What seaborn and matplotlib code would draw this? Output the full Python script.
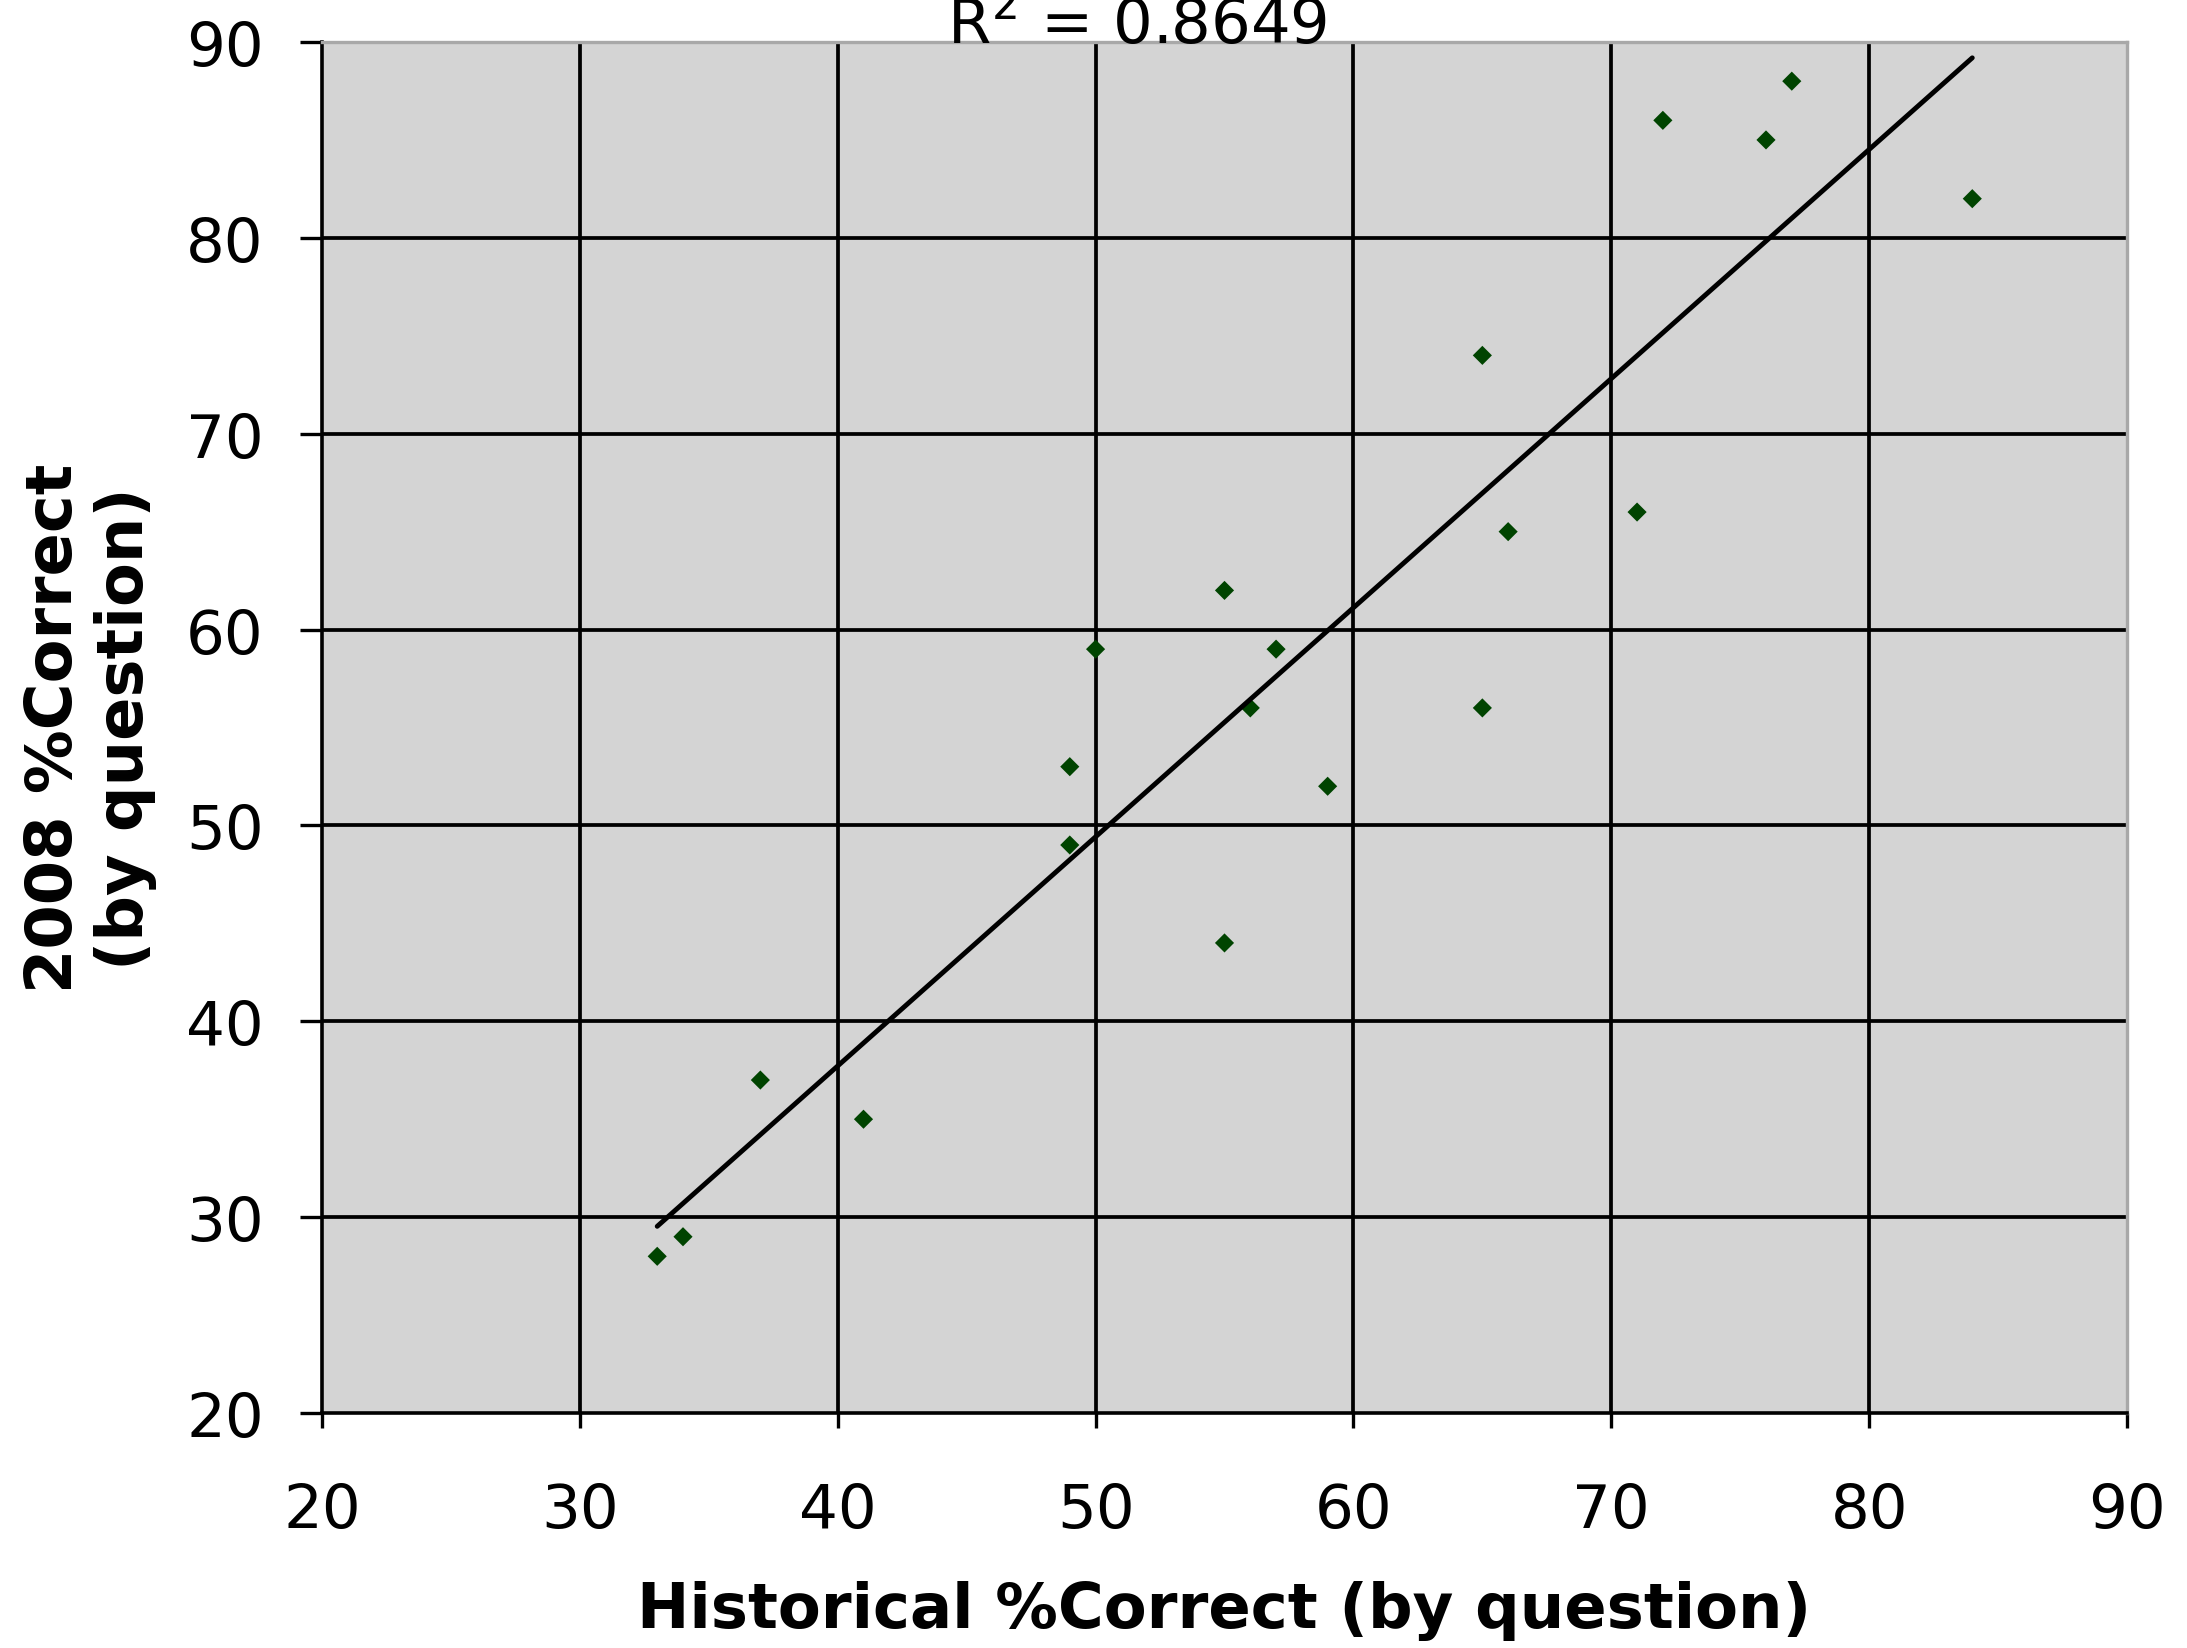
import matplotlib
matplotlib.use("Agg")
import matplotlib.pyplot as plt
import seaborn as sns
import pandas as pd
import numpy as np

historical = [33, 34, 37, 41, 49, 49, 50, 55, 55, 56, 57, 59, 65, 65, 66, 71, 72, 76, 77, 84]
correct_2008 = [28, 29, 37, 35, 53, 49, 59, 62, 44, 56, 59, 52, 74, 56, 65, 66, 86, 85, 88, 82]
ticks = [20, 30, 40, 50, 60, 70, 80, 90]
r2_text = "R$^2$ = 0.8649"

df = pd.DataFrame({"hist": historical, "y2008": correct_2008})

sns.set_theme(style="white")
plt.rcParams['font.family'] = ['DejaVu Sans']
plt.rcParams['text.color'] = 'black'
plt.rcParams['axes.labelcolor'] = 'black'
plt.rcParams['xtick.color'] = 'black'
plt.rcParams['ytick.color'] = 'black'

W, H, DPI = 2187, 1649, 100
fig = plt.figure(figsize=(W / DPI, H / DPI), dpi=DPI)
ax = fig.add_axes([322 / W, 1 - 1414 / H, (2127 - 322) / W, (1414 - 43) / H])
ax.set_facecolor("#d4d4d4")

sns.regplot(data=df, x="hist", y="y2008", ax=ax, ci=None, marker="D",
            scatter_kws=dict(s=95, color="#004400", edgecolor="none", alpha=1.0, zorder=4),
            line_kws=dict(color="black", linewidth=3.5, zorder=5))

ax.set_xlim(20, 90)
ax.set_ylim(20, 90)
ax.set_xticks(ticks)
ax.set_yticks(ticks)
ax.set_xticklabels([str(t) for t in ticks])
ax.set_yticklabels([str(t) for t in ticks])

for t in ticks[1:-1]:
    ax.axvline(t, color="black", linewidth=2.7, zorder=1)
    ax.axhline(t, color="black", linewidth=2.7, zorder=1)

for side in ["left", "bottom"]:
    ax.spines[side].set_color("black")
    ax.spines[side].set_linewidth(2.6)
for side in ["top", "right"]:
    ax.spines[side].set_color("#a8a8a8")
    ax.spines[side].set_linewidth(2.4)
    ax.spines[side].set_visible(True)

ax.tick_params(axis="x", direction="out", length=11, width=2.4, color="black",
               labelsize=44, pad=38, bottom=True, labelcolor="black")
ax.tick_params(axis="y", direction="out", length=16, width=2.4, color="black",
               labelsize=44, pad=26, left=True, labelcolor="black")

ax.set_xlabel("Historical %Correct (by question)", fontsize=45, fontweight="bold", color="black")
ax.xaxis.label.set_va("center")
ax.xaxis.set_label_coords(0.5, -(1611 - 1414) / (1414 - 43))

ax.set_ylabel("2008 %Correct\n(by question)", fontsize=46, fontweight="bold", color="black",
              linespacing=1.2)
ax.yaxis.label.set_va("center")
ax.yaxis.set_label_coords(-(322 - 90) / (2127 - 322), 0.5)

fig.text(1137 / W, 1 - 44 / H, r2_text, ha="center", va="baseline", fontsize=45, color="black")

fig.savefig("out.png", dpi=DPI)
